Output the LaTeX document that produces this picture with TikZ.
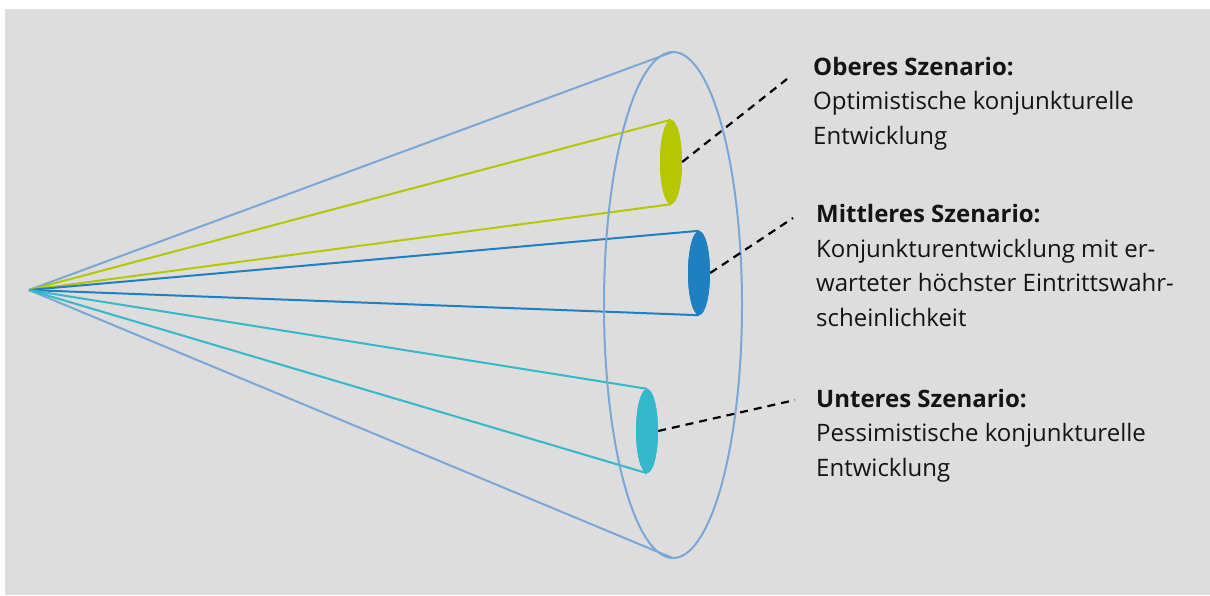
\documentclass[tikz,border=0pt]{standalone}
\usepackage{fontspec}
\setmainfont{Open Sans}
\usetikzlibrary{shapes.geometric}
\definecolor{scbg}{RGB}{221,221,221}
\definecolor{sccone}{RGB}{122,167,214}
\definecolor{scgreen}{RGB}{181,199,0}
\definecolor{scblue}{RGB}{30,128,192}
\definecolor{sccyan}{RGB}{52,184,202}
\definecolor{sctext}{RGB}{20,20,20}
\tikzset{
  scdisc/.style={ellipse, inner sep=0pt, minimum width=22pt, minimum height=84pt},
  scray/.style={line width=2pt},
  sclead/.style={black, line width=2.2pt, dash pattern=on 8pt off 6pt},
  sclabel/.style={anchor=base west, inner sep=0pt, align=left, text=sctext,
    font=\fontsize{24}{34.5}\selectfont}
}

\begin{document}
\begin{tikzpicture}[x=1pt, y=-1pt]
\useasboundingbox (0,0) rectangle (1210,595);
\fill[scbg] (5,9) rectangle (1210,595);
% Apex and outer cone
\coordinate (apex) at (29,290);
\node[ellipse, inner sep=0pt, minimum width=138pt, minimum height=506pt] (cone) at (673,305) {};
\draw[sccone, scray] (apex) -- (cone.north);
\draw[sccone, scray] (apex) -- (cone.south);
% Scenario discs
\node[scdisc, fill=scgreen] (oscen) at (671,162) {};
\node[scdisc, fill=scblue] (mscen) at (699,273) {};
\node[scdisc, fill=sccyan] (uscen) at (647,431) {};
% Rays
\draw[scgreen, scray] (apex) -- (oscen.north);
\draw[scgreen, scray] (apex) -- (oscen.south);
\draw[scblue, scray] (apex) -- (mscen.north);
\draw[scblue, scray] (apex) -- (mscen.south);
\draw[sccyan, scray] (apex) -- (uscen.north);
\draw[sccyan, scray] (apex) -- (uscen.south);
\draw[sccone, scray] (cone.center) ellipse (69 and 253);
% Discs again on top
\fill[scgreen] (oscen.center) ellipse (11 and 42);
\fill[scblue] (mscen.center) ellipse (11 and 42);
\fill[sccyan] (uscen.center) ellipse (11 and 42);
% Labels (anchored at the last baseline)
\node[sclabel] (otext) at (813,144) {\textbf{Oberes Szenario:}\\Optimistische konjunkturelle\\Entwicklung};
\node[sclabel] (mtext) at (816,326) {\textbf{Mittleres Szenario:}\\Konjunkturentwicklung mit er-\\warteter höchster Eintrittswahr-\\scheinlichkeit};
\node[sclabel] (utext) at (816,476) {\textbf{Unteres Szenario:}\\Pessimistische konjunkturelle\\Entwicklung};
% Leaders
\coordinate (otag) at (787,79);
\coordinate (mtag) at (793,218);
\coordinate (utag) at (795,400);
\draw[sclead] (oscen.east) -- (otag);
\draw[sclead] (mscen.east) -- (mtag);
\draw[sclead] (uscen.east) -- (utag);
\end{tikzpicture}
\end{document}
